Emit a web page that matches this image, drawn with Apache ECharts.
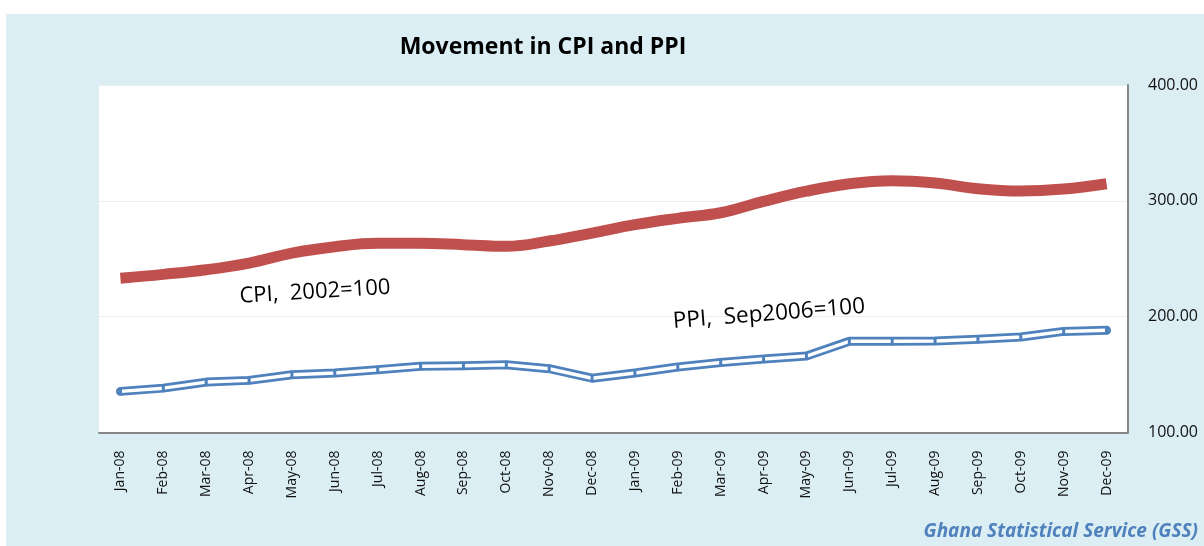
<!DOCTYPE html>
<html>
<head>
<meta charset="utf-8">
<script src="https://cdn.jsdelivr.net/npm/echarts@6/dist/echarts.min.js"></script>
<style>
html,body{margin:0;padding:0;background:#ffffff;}
#chart{position:absolute;left:6px;top:14px;width:1198px;height:532px;}
</style>
</head>
<body>
<div id="chart"></div>
<script>
const categories = ['Jan-08','Feb-08','Mar-08','Apr-08','May-08','Jun-08','Jul-08','Aug-08','Sep-08','Oct-08','Nov-08','Dec-08',
  'Jan-09','Feb-09','Mar-09','Apr-09','May-09','Jun-09','Jul-09','Aug-09','Sep-09','Oct-09','Nov-09','Dec-09'];
const cpiValues = [233.1,236.5,240.5,246.3,254.9,260.4,263.3,263.3,262.1,260.7,265.3,272.2,
  279.4,284.9,289.7,299.5,308.3,314.8,317.4,315.4,310.5,308.5,310.2,314.8];
const ppiValues = [135.5,138.3,143.5,145.0,149.9,151.3,154.2,157.1,157.7,158.5,155.1,146.9,
  151.3,156.5,160.5,163.4,166.0,178.7,178.7,179.0,180.4,182.4,187.3,188.2];
const yTicks = [100, 200, 300, 400];
const titleText = 'Movement in CPI and PPI';
const cpiLabel = 'CPI,  2002=100';
const ppiLabel = 'PPI,  Sep2006=100';
const sourceText = 'Ghana Statistical Service (GSS)';

const chart = echarts.init(document.getElementById('chart'), null, {renderer:'canvas'});
const font = '"Open Sans", "Noto Sans", sans-serif';
chart.setOption({
  backgroundColor: '#daeef3',
  animation: false,
  textStyle: {fontFamily: font},
  title: {
    text: titleText,
    left: 532, top: 17, textAlign: 'center',
    textStyle: {fontFamily: font, fontWeight: 'bold', fontSize: 23, color: '#000'}
  },
  grid: {
    left: 93, top: 71, right: 76, bottom: 113.5,
    show: true, backgroundColor: '#ffffff', borderWidth: 0, containLabel: false
  },
  xAxis: {
    type: 'category',
    data: categories,
    boundaryGap: true,
    axisLine: {show: true, lineStyle: {color: '#868686', width: 2}},
    axisTick: {show: false},
    axisLabel: {rotate: 90, margin: 18, fontSize: 14, color: '#111', fontFamily: font, interval: 0}
  },
  yAxis: {
    type: 'value',
    position: 'right',
    min: yTicks[0], max: yTicks[yTicks.length-1], interval: 100,
    axisLine: {show: true, lineStyle: {color: '#868686', width: 2}},
    axisTick: {show: false},
    splitLine: {show: true, lineStyle: {color: '#eeeeee', width: 1}},
    axisLabel: {margin: 20, fontSize: 16, color: '#111', fontFamily: font,
      formatter: v => v.toFixed(2)}
  },
  series: [
    {
      name: 'CPI', type: 'line', data: cpiValues, smooth: 0.4,
      showSymbol: false, symbol: 'none',
      lineStyle: {color: '#c0504d', width: 11, cap: 'butt'},
      z: 2
    },
    {
      name: 'PPI outer', type: 'line', data: ppiValues, smooth: false,
      showSymbol: false, symbol: 'none',
      lineStyle: {color: '#4f81bd', width: 9, cap: 'round', join: 'round'},
      z: 3
    },
    {
      name: 'PPI inner', type: 'line', data: ppiValues, smooth: false,
      symbol: 'rect', symbolSize: [3, 8], showSymbol: true,
      itemStyle: {color: '#4f81bd', borderWidth: 0},
      lineStyle: {color: '#ffffff', width: 3.5, cap: 'round', join: 'round'},
      z: 4
    }
  ],
  graphic: [
    {type: 'text', x: 309, y: 278, rotation: 3.5 * Math.PI / 180, z: 10,
      style: {text: cpiLabel, fontSize: 22, fontFamily: font, fill: '#000', textAlign: 'center', textVerticalAlign: 'middle'}},
    {type: 'text', x: 763, y: 300, rotation: 4.5 * Math.PI / 180, z: 10,
      style: {text: ppiLabel, fontSize: 22.5, fontFamily: font, fill: '#000', textAlign: 'center', textVerticalAlign: 'middle'}},
    {type: 'text', right: 6, bottom: 5, z: 10,
      style: {text: sourceText, fontSize: 19, fontFamily: font, fontStyle: 'italic', fontWeight: 'bold', fill: '#4f81bd'}}
  ]
});
</script>
</body>
</html>
